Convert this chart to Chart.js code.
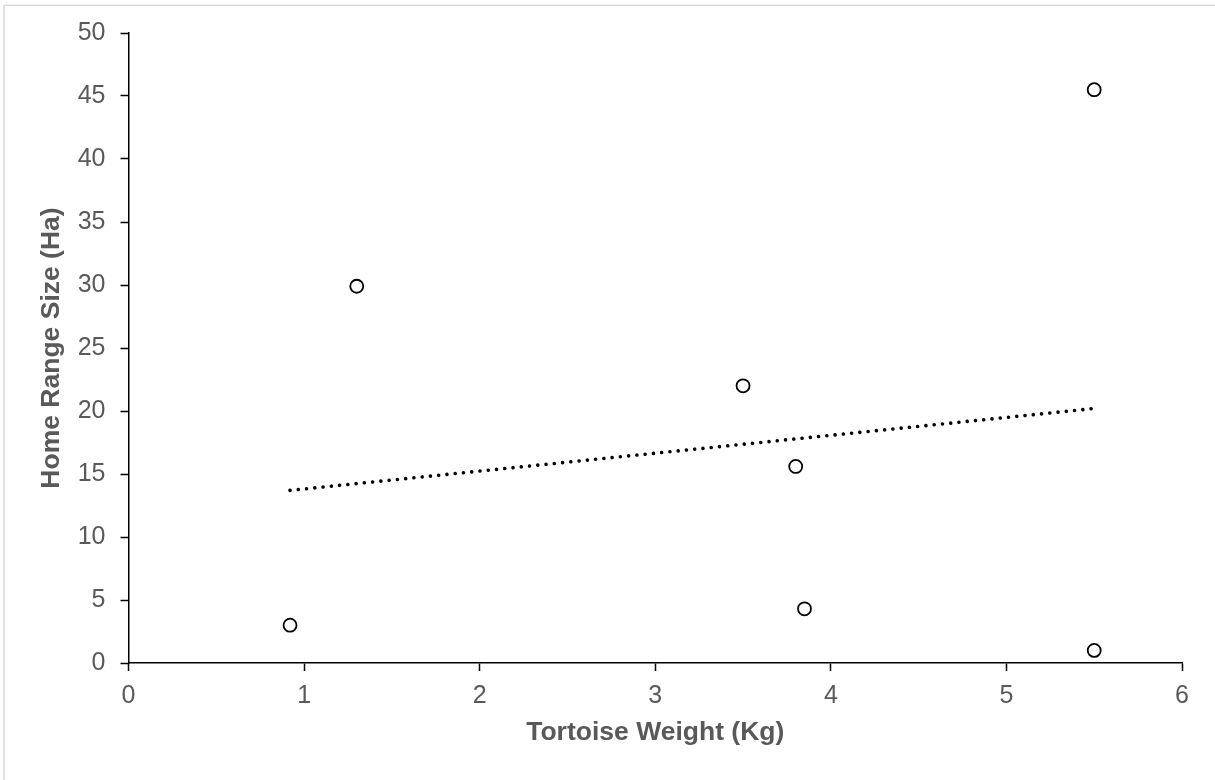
<!DOCTYPE html>
<html>
<head>
<meta charset="utf-8">
<title>Tortoise weight vs home range</title>
<script src="https://cdn.jsdelivr.net/npm/chart.js@4/dist/chart.umd.min.js"></script>
<style>
    html, body { margin: 0; padding: 0; background: #fff; overflow: hidden; }
    #wrap { position: relative; width: 1215px; height: 780px; }
</style>
</head>
<body>
<div id="wrap"><canvas id="scatterChart"></canvas></div>
<script>
// values
const weightKg = [0.92, 1.3, 3.5, 3.8, 3.85, 5.5, 5.5];
const homeRangeHa = [3.0, 29.9, 22.0, 15.6, 4.3, 45.5, 1.0];
// dotted trend line end points
const trendWeight = [0.92, 5.5];
const trendRange = [13.7, 20.2];
// axis ticks
const xTickValues = [0, 1, 2, 3, 4, 5, 6];
const yTickValues = [0, 5, 10, 15, 20, 25, 30, 35, 40, 45, 50];

const fontFamily = "'Liberation Sans', Arial, sans-serif";
const labelGrey = '#595959';

// light grey frame around the whole chart
const framePlugin = {
    id: 'frame',
    beforeDraw(chart) {
        const ctx = chart.ctx;
        ctx.save();
        ctx.fillStyle = '#fff';
        ctx.fillRect(0, 0, chart.width, chart.height);
        ctx.strokeStyle = '#d9d9d9';
        ctx.lineWidth = 1.5;
        ctx.strokeRect(4, 5.3, chart.width + 50, chart.height + 50);
        ctx.restore();
    }
};

function createChart() {
    const ctx = document.getElementById('scatterChart');

    const points = weightKg.map((x, i) => ({ x: x, y: homeRangeHa[i] }));
    const trend = trendWeight.map((x, i) => ({ x: x, y: trendRange[i] }));

    const cfg = {
        type: 'scatter',
        data: {
            datasets: [
                {
                    label: 'Trend',
                    type: 'line',
                    data: trend,
                    borderColor: '#000',
                    borderWidth: 3.6,
                    borderCapStyle: 'round',
                    borderDash: [0.001, 8.3],
                    pointRadius: 0,
                    fill: false
                },
                {
                    label: 'Home range',
                    data: points,
                    pointStyle: 'circle',
                    pointRadius: 6.5,
                    pointBorderWidth: 1.8,
                    pointBorderColor: '#000',
                    pointBackgroundColor: '#fff'
                }
            ]
        },
        options: {
            responsive: true,
            maintainAspectRatio: false,
            animation: false,
            layout: {
                padding: { left: 4, top: 33, right: 33, bottom: 20 }
            },
            scales: {
                x: {
                    type: 'linear',
                    min: 0,
                    max: 6,
                    afterBuildTicks: (axis) => {
                        axis.ticks = xTickValues.map(v => ({ value: v }));
                    },
                    afterFit: (axis) => { axis.height = 97; },
                    border: { display: true, color: '#000', width: 1.5 },
                    grid: {
                        drawOnChartArea: false,
                        drawTicks: true,
                        tickLength: 8,
                        tickColor: '#000',
                        tickWidth: 1.5
                    },
                    ticks: {
                        color: labelGrey,
                        padding: 10,
                        font: { family: fontFamily, size: 25 }
                    },
                    title: {
                        display: true,
                        text: 'Tortoise Weight (Kg)',
                        color: labelGrey,
                        padding: { top: 0, bottom: 11 },
                        font: { family: fontFamily, size: 26.5, weight: 'bold' }
                    }
                },
                y: {
                    type: 'linear',
                    min: 0,
                    max: 50,
                    afterBuildTicks: (axis) => {
                        axis.ticks = yTickValues.map(v => ({ value: v }));
                    },
                    afterFit: (axis) => { axis.width = 124.5; },
                    border: { display: true, color: '#000', width: 1.5 },
                    grid: {
                        drawOnChartArea: false,
                        drawTicks: true,
                        tickLength: 8,
                        tickColor: '#000',
                        tickWidth: 1.5
                    },
                    ticks: {
                        color: labelGrey,
                        padding: 15,
                        font: { family: fontFamily, size: 25 }
                    },
                    title: {
                        display: true,
                        text: 'Home Range Size (Ha)',
                        color: labelGrey,
                        padding: { top: 32, bottom: 0 },
                        font: { family: fontFamily, size: 26.5, weight: 'bold' }
                    }
                }
            },
            plugins: {
                legend: { display: false },
                tooltip: { enabled: false }
            }
        },
        plugins: [framePlugin]
    };

    new Chart(ctx, cfg);
}

document.addEventListener("DOMContentLoaded", function () {
    createChart();
});
</script>
</body>
</html>
